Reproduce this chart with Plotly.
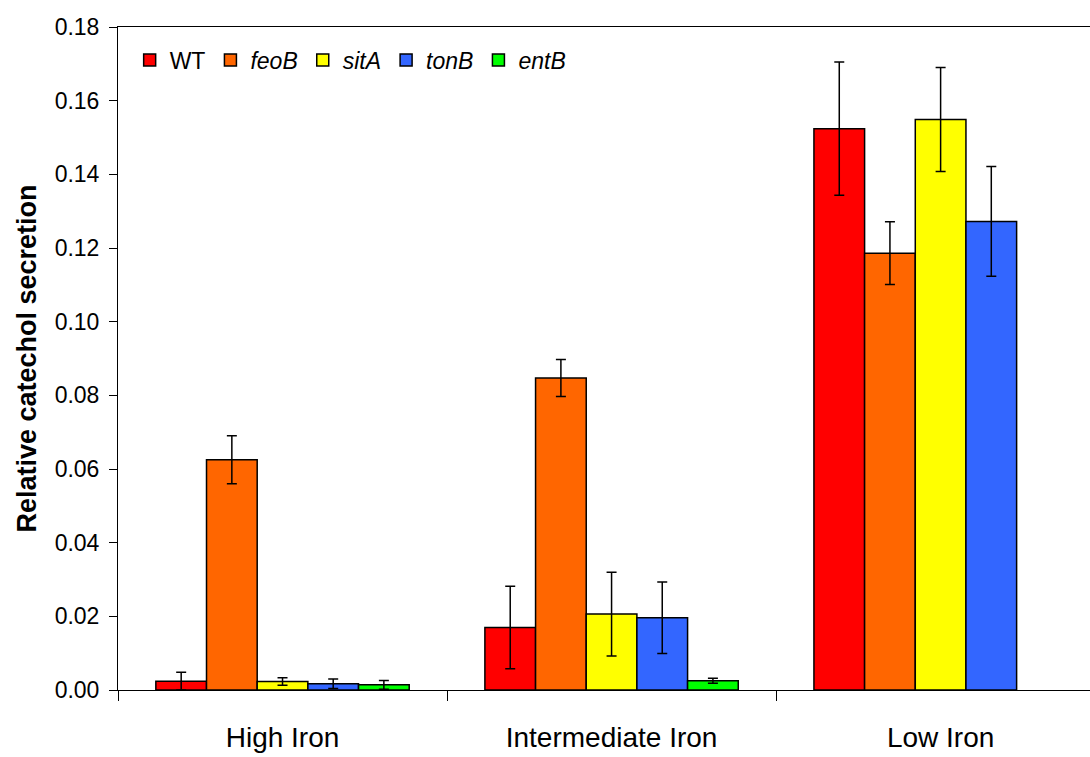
import plotly.graph_objects as go

categories = ["High Iron", "Intermediate Iron", "Low Iron"]
series_names = ["WT", "<i>feoB</i>", "<i>sitA</i>", "<i>tonB</i>", "<i>entB</i>"]
series_colors = ["#FF0000", "#FF6600", "#FFFF00", "#3366FF", "#00FF00"]

wt_vals = [0.0024, 0.0170, 0.1524]
wt_err = [0.0024, 0.0112, 0.0181]
feob_vals = [0.0625, 0.0847, 0.1186]
feob_err = [0.0065, 0.0050, 0.0085]
sita_vals = [0.0023, 0.0206, 0.1549]
sita_err = [0.0010, 0.0114, 0.0141]
tonb_vals = [0.0017, 0.0196, 0.1272]
tonb_err = [0.0013, 0.0097, 0.0149]
entb_vals = [0.0014, 0.0025, None]
entb_err = [0.0012, 0.0007, None]

y_ticks = [0, 0.02, 0.04, 0.06, 0.08, 0.10, 0.12, 0.14, 0.16, 0.18]
y_tick_text = ["0.00", "0.02", "0.04", "0.06", "0.08", "0.10", "0.12", "0.14", "0.16", "0.18"]

all_vals = [wt_vals, feob_vals, sita_vals, tonb_vals, entb_vals]
all_errs = [wt_err, feob_err, sita_err, tonb_err, entb_err]

FONT = "Liberation Sans, Arial, sans-serif"

fig = go.Figure()
for name, color, vals, errs in zip(series_names, series_colors, all_vals, all_errs):
    fig.add_trace(go.Bar(
        x=categories, y=vals, name=name,
        marker=dict(color=color, line=dict(color="black", width=1.5)),
        error_y=dict(type="data", array=errs, visible=True, color="black",
                     thickness=1.5, width=5),
    ))

fig.update_layout(
    width=1090, height=757,
    margin=dict(l=118, r=0, t=27, b=67),
    paper_bgcolor="white", plot_bgcolor="white",
    barmode="group", bargap=0.23, bargroupgap=0,
    font=dict(family=FONT, size=23, color="black"),
    showlegend=True,
    legend=dict(orientation="h", x=0.012, y=0.95, xanchor="left", yanchor="middle",
                bgcolor="rgba(0,0,0,0)", font=dict(size=23), itemwidth=30,
                traceorder="normal"),
    xaxis=dict(
        type="category", range=[-0.5, 2.454],
        showline=True, linecolor="black", linewidth=1,
        mirror=True,
        ticks="outside", tickson="boundaries", ticklen=10, tickcolor="black",
        tickfont=dict(size=28, family=FONT),
        ticklabelstandoff=22,
        showgrid=False, zeroline=False,
    ),
    yaxis=dict(
        range=[0, 0.18], tickvals=y_ticks, ticktext=y_tick_text,
        showline=True, linecolor="black", linewidth=1,
        ticks="outside", ticklen=8, tickcolor="black",
        tickfont=dict(size=23, family=FONT),
        ticklabelstandoff=5,
        showgrid=False, zeroline=False,
        title=dict(text="<b>Relative catechol secretion</b>",
                   font=dict(size=27, family=FONT), standoff=10),
    ),
)

fig.write_html("out.html")
